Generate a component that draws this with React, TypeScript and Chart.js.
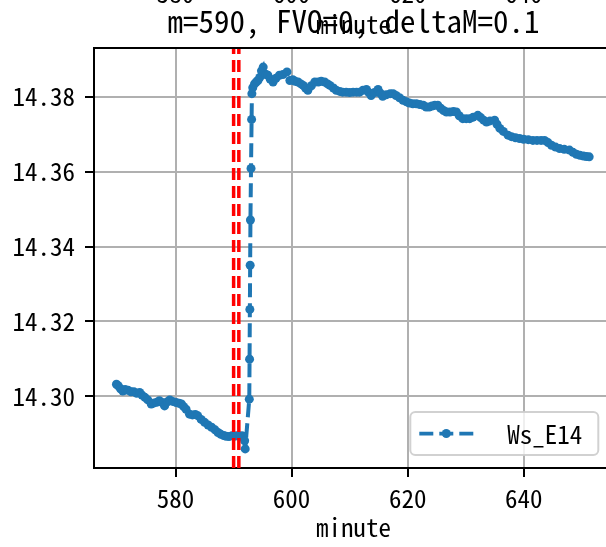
import React, { useEffect, useRef } from "react";
import { Chart, registerables } from "chart.js";

Chart.register(...registerables);

const minutes = [
  569.8, 570.1, 570.5, 570.9, 571.3, 571.8, 572.3, 572.8, 573.3, 573.8,
  574.2, 574.7, 575.2, 575.8, 576.3, 576.8, 577.2, 577.7, 578.1, 578.6,
  579.0, 579.5, 580.1, 580.6, 581.0, 581.4, 581.8, 582.4, 582.9, 583.4,
  583.8, 584.4, 585.0, 585.6, 586.2, 586.8, 587.3, 587.8, 588.3, 588.7,
  589.2, 589.7, 590.1, 590.5, 591.0, 591.4, 591.7, 591.9, 592.0, 592.7,
  592.75, 592.8, 592.85, 592.9, 593.0, 593.1, 593.15, 593.3, 593.6, 593.9,
  594.2, 594.5, 594.8, 595.1, 595.3, 595.6, 595.9, 596.3, 596.8, 597.3,
  597.9, 598.5, 599.2, 599.7, 600.2, 600.6, 601.1, 601.6, 602.0, 602.4,
  602.8, 603.4, 604.0, 604.6, 605.1, 605.7, 606.2, 606.6, 607.2, 607.7,
  608.3, 608.8, 609.4, 610.0, 610.6, 611.2, 611.7, 612.3, 612.9, 613.3,
  613.7, 614.3, 614.9, 615.3, 615.7, 616.3, 617.0, 617.5, 618.0, 618.6,
  619.2, 619.8, 620.3, 620.9, 621.5, 622.1, 622.7, 623.2, 623.7, 624.2,
  624.7, 625.2, 625.7, 626.2, 626.7, 627.3, 627.9, 628.4, 628.9, 629.5,
  630.1, 630.7, 631.3, 632.1, 632.6, 633.1, 633.6, 634.2, 635.0, 635.4,
  635.9, 636.5, 637.3, 637.9, 638.6, 639.3, 640.0, 640.8, 641.6, 642.3,
  643.0, 643.6, 644.2, 644.8, 645.5, 646.2, 647.0, 647.9, 648.5, 649.1,
  649.7, 650.3, 650.8, 651.3,
];

const wsE14 = [
  14.3032, 14.3028, 14.302, 14.3014, 14.3018, 14.3016, 14.3012, 14.3012, 14.3008, 14.301,
  14.3003, 14.2997, 14.299, 14.2979, 14.2982, 14.2984, 14.2988, 14.2983, 14.2974, 14.2985,
  14.299, 14.2986, 14.2983, 14.2981, 14.2979, 14.2972, 14.2965, 14.2952, 14.295, 14.2951,
  14.2948, 14.2938, 14.293, 14.2923, 14.2917, 14.291, 14.2903, 14.2898, 14.2895, 14.2893,
  14.2892, 14.2894, 14.2893, 14.2894, 14.2893, 14.2894, 14.2893, 14.2881, 14.2859, 14.2992,
  14.3099, 14.3232, 14.335, 14.3471, 14.3609, 14.374, 14.3809, 14.3825, 14.3835, 14.384,
  14.3844, 14.3852, 14.387, 14.388, 14.3862, 14.386, 14.3858, 14.3848, 14.384, 14.385,
  14.3858, 14.386, 14.3867, 14.3844, 14.3846, 14.3842, 14.384, 14.3835, 14.3831, 14.3824,
  14.3818, 14.383, 14.384, 14.384, 14.3842, 14.384, 14.3835, 14.3831, 14.3824, 14.3818,
  14.3815, 14.3813, 14.3813, 14.3812, 14.3813, 14.3813, 14.3813, 14.3818, 14.382, 14.3812,
  14.3804, 14.3812, 14.382, 14.381, 14.3802, 14.3806, 14.3809, 14.3809, 14.3804, 14.3798,
  14.3791, 14.3787, 14.3784, 14.3782, 14.3782, 14.378, 14.3778, 14.3773, 14.3773, 14.3776,
  14.3778, 14.3778, 14.377, 14.3764, 14.376, 14.376, 14.3761, 14.376, 14.375, 14.3742,
  14.3742, 14.3742, 14.3746, 14.3751, 14.3745, 14.3738, 14.3733, 14.3736, 14.3738, 14.3727,
  14.3716, 14.3708, 14.3698, 14.3694, 14.3691, 14.3689, 14.3687, 14.3686, 14.3684, 14.3684,
  14.3684, 14.3684, 14.3678, 14.3671, 14.3666, 14.3662, 14.366, 14.3658, 14.3652, 14.3647,
  14.3644, 14.3642, 14.3641, 14.364,
];

const xTicks = [580, 600, 620, 640];
const yTicks = [14.3, 14.32, 14.34, 14.36, 14.38];
const markerMinutes = [590, 590.9];
const xLimits = [565.93, 655.37];
const yLimits = [14.2808, 14.3931];
const titleText = "m=590, FVO=0, deltaM=0.1";
const xLabel = "minute";
const seriesLabel = "Ws_E14";

const FONT = "'Noto Sans Mono CJK SC', 'Noto Sans Mono CJK JP', 'DejaVu Sans Mono', monospace";
const BLUE = "#1f77b4";

const overlayPlugin = {
  id: "overlay",
  afterDatasetsDraw(chart: any) {
    const { ctx, chartArea } = chart;
    ctx.save();
    ctx.strokeStyle = "#000";
    ctx.lineWidth = 2;
    ctx.beginPath();
    ctx.moveTo(chartArea.left - 1, chartArea.top);
    ctx.lineTo(chartArea.right + 1, chartArea.top);
    ctx.moveTo(chartArea.right, chartArea.top);
    ctx.lineTo(chartArea.right, chartArea.bottom);
    ctx.stroke();
    ctx.restore();
  },
  afterDraw(chart: any) {
    const { ctx, chartArea, scales } = chart;
    const xs = scales.x;
    const cx = xs.getPixelForValue((xLimits[0] + xLimits[1]) / 2);
    ctx.save();
    ctx.fillStyle = "#000";
    ctx.textAlign = "center";
    ctx.textBaseline = "alphabetic";
    // cut-off tick labels of the subplot above
    ctx.font = `25px ${FONT}`;
    xTicks.forEach((t) => {
      ctx.fillText(String(t), xs.getPixelForValue(t), 3);
    });
    // title
    ctx.font = `31px ${FONT}`;
    ctx.fillText(titleText, cx, 33);
    // x label of subplot above (overlapping the title)
    ctx.font = `25px ${FONT}`;
    ctx.fillText(xLabel, cx, 34);
    // x label
    ctx.fillText(xLabel, cx, 537);

    // legend
    const right = chartArea.right - 14.5;
    const bottom = chartArea.bottom - 13;
    const w = 188;
    const h = 43;
    const left = right - w;
    const top = bottom - h;
    ctx.beginPath();
    (ctx as any).roundRect(left, top, w, h, 5);
    ctx.fillStyle = "rgba(255,255,255,0.8)";
    ctx.fill();
    ctx.strokeStyle = "rgba(204,204,204,0.9)";
    ctx.lineWidth = 2;
    ctx.stroke();
    const ly = top + h / 2;
    ctx.beginPath();
    ctx.setLineDash([14, 6]);
    ctx.strokeStyle = BLUE;
    ctx.lineWidth = 3.75;
    ctx.moveTo(left + 9, ly);
    ctx.lineTo(left + 63, ly);
    ctx.stroke();
    ctx.setLineDash([]);
    ctx.beginPath();
    ctx.fillStyle = BLUE;
    ctx.arc(left + 36, ly, 4.5, 0, Math.PI * 2);
    ctx.fill();
    ctx.fillStyle = "#000";
    ctx.textAlign = "left";
    ctx.textBaseline = "middle";
    ctx.font = `25px ${FONT}`;
    ctx.fillText(seriesLabel, left + 97, ly + 1);
    ctx.restore();
  },
};

export default function App() {
  const ref = useRef<HTMLCanvasElement>(null);
  useEffect(() => {
    if (!ref.current) return;
    const series = minutes.map((m, i) => ({ x: m, y: wsE14[i] }));
    const markerSets = markerMinutes.map((m) => ({
      label: "m" + m,
      data: [
        { x: m, y: yLimits[0] },
        { x: m, y: yLimits[1] },
      ],
      borderColor: "#ff0000",
      borderWidth: 3.5,
      borderDash: [12, 6],
      pointRadius: 0,
      order: 0,
    }));
    const chart = new Chart(ref.current, {
      type: "line",
      data: {
        datasets: [
          ...markerSets,
          {
            label: seriesLabel,
            data: series,
            borderColor: BLUE,
            backgroundColor: BLUE,
            borderWidth: 4,
            borderDash: [14, 6],
            pointRadius: 4.5,
            pointBorderWidth: 0,
            pointBackgroundColor: BLUE,
            tension: 0,
            order: 1,
          },
        ],
      },
      options: {
        animation: false,
        responsive: false,
        devicePixelRatio: 1,
        layout: { padding: { left: 0, top: 48, right: 27.2, bottom: 0 } },
        plugins: { legend: { display: false }, tooltip: { enabled: false }, title: { display: false } },
        scales: {
          x: {
            type: "linear",
            min: xLimits[0],
            max: xLimits[1],
            afterBuildTicks: (s: any) => {
              s.ticks = xTicks.map((v) => ({ value: v }));
            },
            afterFit: (s: any) => {
              s.height = 79;
            },
            ticks: {
              color: "#000",
              font: { family: FONT, size: 25 },
              padding: 6,
              maxRotation: 0,
              autoSkip: false,
              callback: (v: any) => String(v),
            },
            grid: {
              color: "#b0b0b0",
              lineWidth: 2,
              drawTicks: true,
              tickLength: 9,
              tickColor: "#000",
              tickWidth: 2,
            },
            border: { display: true, color: "#000", width: 2 },
          },
          y: {
            type: "linear",
            min: yLimits[0],
            max: yLimits[1],
            afterBuildTicks: (s: any) => {
              s.ticks = yTicks.map((v) => ({ value: v }));
            },
            afterFit: (s: any) => {
              s.width = 94;
            },
            ticks: {
              color: "#000",
              font: { family: FONT, size: 25 },
              padding: 10,
              autoSkip: false,
              callback: (v: any) => Number(v).toFixed(2),
            },
            grid: {
              color: "#b0b0b0",
              lineWidth: 2,
              drawTicks: true,
              tickLength: 9,
              tickColor: "#000",
              tickWidth: 2,
            },
            border: { display: true, color: "#000", width: 2 },
          },
        },
      },
      plugins: [overlayPlugin],
    });
    return () => chart.destroy();
  }, []);
  return (
    <div style={{ position: "fixed", left: 0, top: 0, width: "100vw", height: "100vh", overflow: "hidden", background: "#fff" }}>
      <canvas ref={ref} width={640} height={547} style={{ display: "block" }} />
    </div>
  );
}
